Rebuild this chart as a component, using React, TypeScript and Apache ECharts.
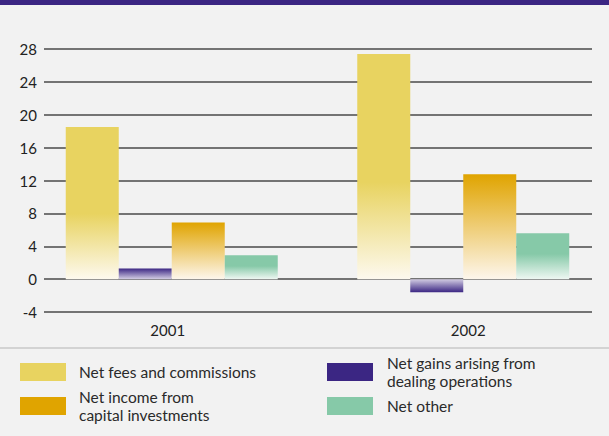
import React, { useEffect, useRef } from "react";
import * as echarts from "echarts";

const categories = ["2001", "2002"];
const yTicks = { min: -4, max: 28, interval: 4 };
const netFees = [18.5, 27.4];
const dealingGains = [1.3, -1.6];
const capitalIncome = [6.9, 12.75];
const netOther = [2.9, 5.57];

const seriesNames = [
  "Net fees and commissions",
  "Net gains arising from\ndealing operations",
  "Net income from\ncapital investments",
  "Net other",
];

const FONT = "Lato";
const LEG_SIZE = 15.5;
const LEG_LH = 18.5;

function grad(stops: [number, string][]) {
  return new echarts.graphic.LinearGradient(
    0,
    0,
    0,
    1,
    stops.map(([offset, color]) => ({ offset, color }))
  );
}

export default function App() {
  const ref = useRef<HTMLDivElement>(null);
  useEffect(() => {
    if (!ref.current) return;
    const chart = echarts.init(ref.current, undefined, { renderer: "svg" });

    const yellow = "#e8d360";
    const orange = "#e0a400";
    const purple = "#3b2683";
    const green = "#86c9a8";

    const mk = (vals: number[], posStops: [number, string][]) =>
      vals.map((v) => ({
        value: v,
        itemStyle: {
          color: grad(
            v >= 0
              ? posStops
              : posStops.map(([o, c]) => [1 - o, c] as [number, string]).reverse()
          ),
        },
      }));

    const common = {
      type: "bar" as const,
      xAxisIndex: 1,
      yAxisIndex: 1,
      barWidth: 53,
      barGap: "0%",
    };

    const legendItem = (name: string, swatchLeft: number, swatchTop: number, pad: number) => {
      const lines = name.split("\n").length;
      const h = Math.max(18, lines * LEG_LH);
      return {
        data: [name],
        orient: "vertical",
        left: swatchLeft - 5,
        top: swatchTop + 9 - h / 2 - 5,
        itemWidth: 46,
        itemHeight: 18,
        icon: "rect",
        selectedMode: false,
        textStyle: {
          color: "#2a2a2a",
          fontSize: LEG_SIZE,
          lineHeight: LEG_LH,
          fontFamily: FONT,
          padding: [0, 0, 0, pad],
        },
      };
    };

    chart.setOption({
      animation: false,
      backgroundColor: "#f2f2f2",
      textStyle: { fontFamily: FONT },
      grid: [
        { left: 44, right: 17, top: 49, bottom: 124 },
        { left: 26, width: 584, top: 49, bottom: 124 },
      ],
      xAxis: [
        { type: "category", gridIndex: 0, data: categories, show: false },
        {
          type: "category",
          gridIndex: 1,
          data: categories,
          axisLine: { show: false },
          axisTick: { show: false },
          axisLabel: {
            margin: 10,
            color: "#222",
            fontSize: 15,
            fontFamily: FONT,
            formatter: (v: string) => (v === categories[0] ? `{a|${v}}` : `{b|${v}}`),
            rich: {
              a: { padding: [0, 8, 0, 0], fontSize: 15, color: "#222", fontFamily: FONT },
              b: { padding: [0, 0, 0, 10], fontSize: 15, color: "#222", fontFamily: FONT },
            },
          },
        },
      ],
      yAxis: [
        {
          type: "value",
          gridIndex: 0,
          min: yTicks.min,
          max: yTicks.max,
          interval: yTicks.interval,
          axisLine: { show: false },
          axisTick: { show: false },
          axisLabel: { margin: 7, color: "#222", fontSize: 15, fontFamily: FONT },
          splitLine: { lineStyle: { color: "#4a4a4a", width: 1.5 } },
        },
        {
          type: "value",
          gridIndex: 1,
          min: yTicks.min,
          max: yTicks.max,
          interval: yTicks.interval,
          show: false,
          splitLine: { show: false },
        },
      ],
      legend: [
        legendItem(seriesNames[0], 20, 363, 8),
        legendItem(seriesNames[2], 20, 397, 8),
        legendItem(seriesNames[1], 327, 363, 9),
        legendItem(seriesNames[3], 327, 397, 9),
      ],
      graphic: [
        { type: "rect", left: 0, top: 0, shape: { width: 609, height: 5 }, style: { fill: purple } },
        {
          type: "line",
          shape: { x1: 0, y1: 348, x2: 609, y2: 348 },
          style: { stroke: "#c8c8c8", lineWidth: 1.5 },
        },
      ],
      series: [
        {
          ...common,
          name: seriesNames[0],
          itemStyle: { color: yellow },
          data: mk(netFees, [
            [0, yellow],
            [0.57, yellow],
            [1, "#fdf9ee"],
          ]),
        },
        {
          ...common,
          name: seriesNames[1],
          itemStyle: { color: purple },
          data: mk(dealingGains, [
            [0, purple],
            [1, "#d3cde3"],
          ]),
        },
        {
          ...common,
          name: seriesNames[2],
          itemStyle: { color: orange },
          data: mk(capitalIncome, [
            [0, orange],
            [1, "#fdf6ec"],
          ]),
        },
        {
          ...common,
          name: seriesNames[3],
          itemStyle: { color: green },
          data: mk(netOther, [
            [0, green],
            [0.45, green],
            [1, "#eef7f2"],
          ]),
        },
      ],
    });
    return () => chart.dispose();
  }, []);
  return (
    <div
      ref={ref}
      style={{ position: "absolute", left: 0, top: 0, width: 609, height: 436 }}
    />
  );
}
